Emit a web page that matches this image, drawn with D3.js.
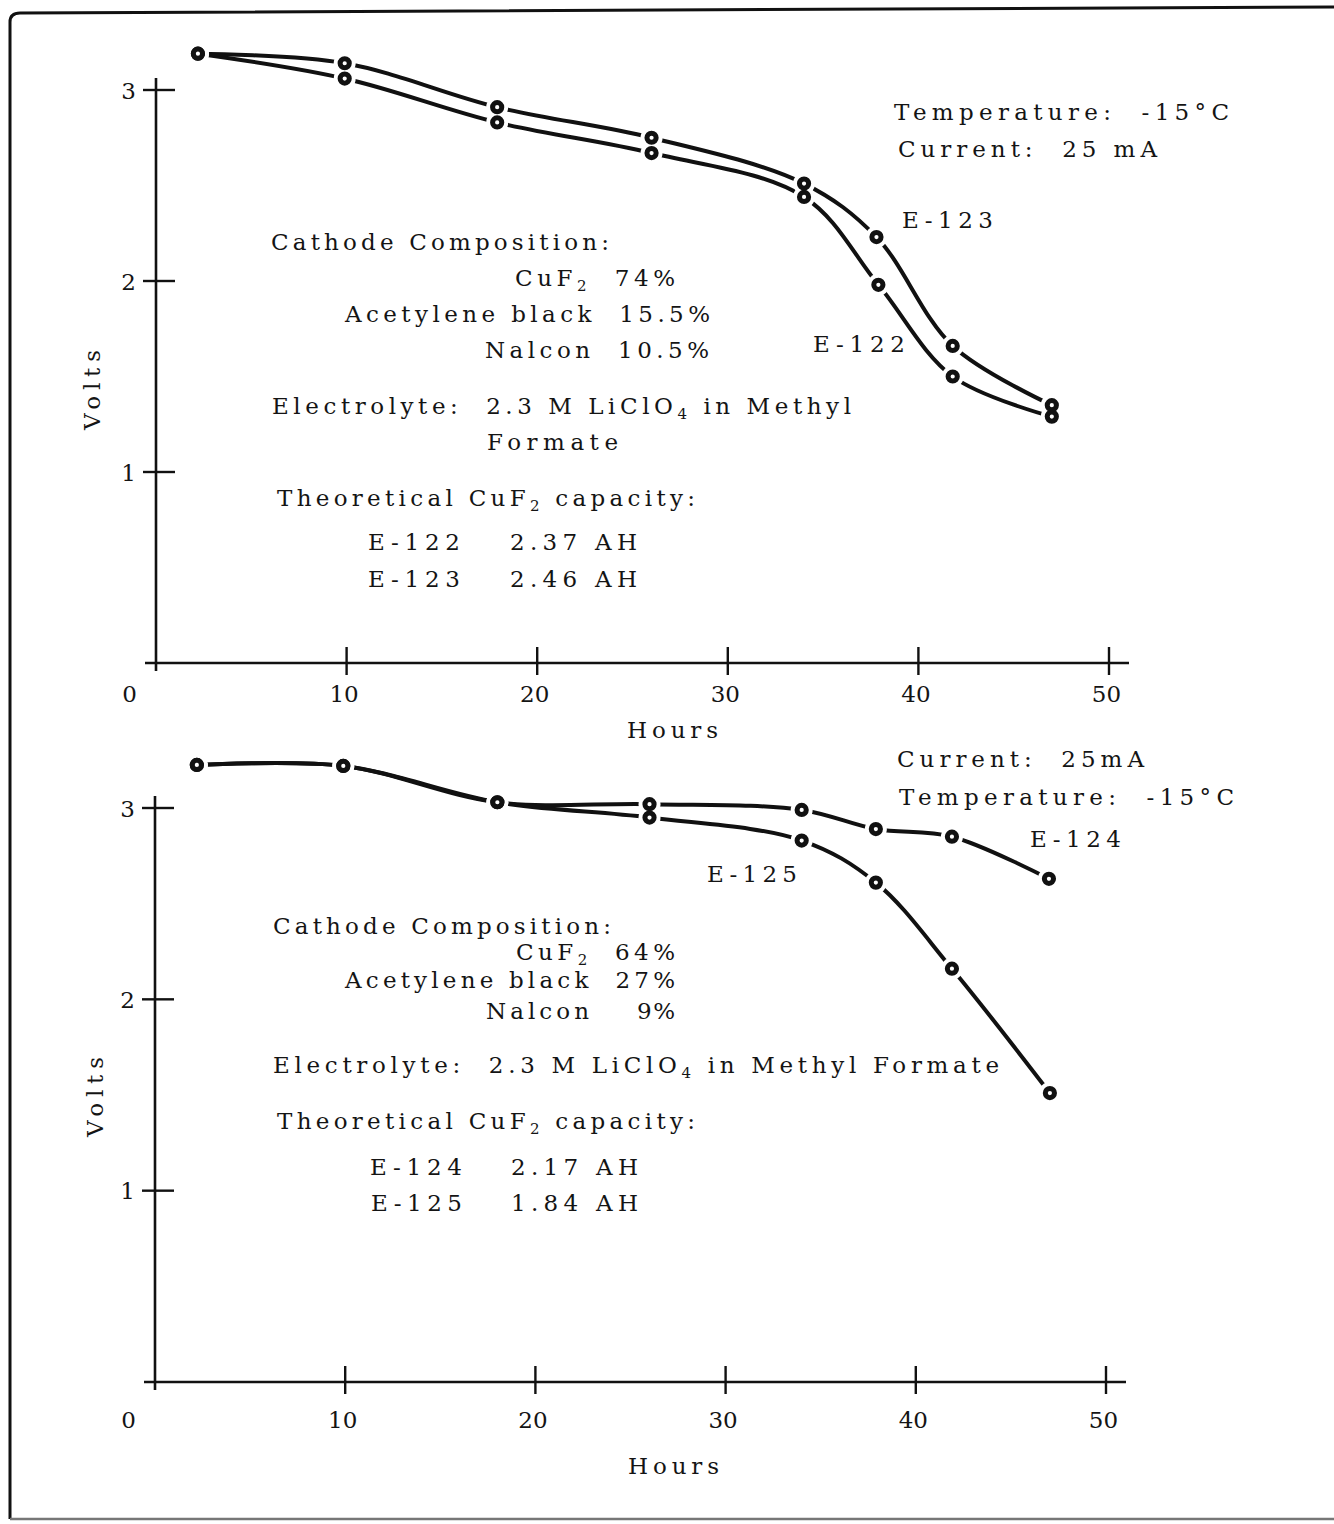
<!DOCTYPE html>
<html>
<head>
<meta charset="utf-8">
<script src="https://cdn.jsdelivr.net/npm/d3@7"></script>
<style>
  body { margin: 0; background: #fff; }
  svg { display: block; }
  text { font-family: "DejaVu Serif", "Liberation Serif", serif; fill: #141414; white-space: pre; }
</style>
</head>
<body>
<svg id="fig" width="1334" height="1524"></svg>
<script>
// ---- axis ticks ----
const hoursTicks = [0, 10, 20, 30, 40, 50];
const voltTicks = [1, 2, 3];

// ---- upper panel: cells E-122 / E-123 (hours, volts) ----
const e122Hours = [2.2, 9.9, 17.9, 26.0, 34.0, 37.9, 41.8, 47.0];
const e122Volts = [3.19, 3.06, 2.83, 2.67, 2.44, 1.98, 1.50, 1.29];
const e123Hours = [2.2, 9.9, 17.9, 26.0, 34.0, 37.8, 41.8, 47.0];
const e123Volts = [3.19, 3.14, 2.91, 2.75, 2.51, 2.23, 1.66, 1.35];

// ---- lower panel: cells E-124 / E-125 (hours, volts) ----
const e124Hours = [2.2, 9.9, 18.0, 26.0, 34.0, 37.9, 41.9, 47.0];
const e124Volts = [3.225, 3.22, 3.03, 3.02, 2.99, 2.89, 2.85, 2.63];
const e125Hours = [2.2, 9.9, 18.0, 26.0, 34.0, 37.9, 41.9, 47.05];
const e125Volts = [3.225, 3.22, 3.03, 2.95, 2.83, 2.61, 2.16, 1.51];

// ---- annotation texts ("_n" marks a subscript digit) ----
const upperNotes = [
  "Temperature:  -15°C", "Current:  25 mA", "E-123", "E-122",
  "Cathode Composition:", "CuF_2  74%", "Acetylene black  15.5%", "Nalcon  10.5%",
  "Electrolyte:  2.3 M LiClO_4 in Methyl", "Formate",
  "Theoretical CuF_2 capacity:", "E-122", "2.37 AH", "E-123", "2.46 AH"
];
const lowerNotes = [
  "Current:  25mA", "Temperature:  -15°C", "E-124", "E-125",
  "Cathode Composition:", "CuF_2  64%", "Acetylene black  27%", "Nalcon", "9%",
  "Electrolyte:  2.3 M LiClO_4 in Methyl Formate",
  "Theoretical CuF_2 capacity:", "E-124", "2.17 AH", "E-125", "1.84 AH"
];

// text placement: [left x, baseline y, set width]
const upperNoteLayout = [
  [894, 120, 335], [898, 157, 259], [902, 228, 91], [813, 352, 92],
  [271, 250, 338], [515, 286, 160], [345, 322, 365], [485, 358, 224],
  [272, 414, 579], [487, 450, 131],
  [277, 506, 418], [368, 550, 92], [510, 550, 127], [368, 587, 92], [510, 587, 127]
];
const lowerNoteLayout = [
  [897, 767, 247], [899, 805, 335], [1030, 847, 91], [707, 882, 90],
  [273, 934, 338], [516, 960, 159], [345, 988, 330], [486, 1019, 103], [637, 1019, 38],
  [273, 1073, 726],
  [277, 1129, 418], [370, 1175, 92], [511, 1175, 127], [371, 1211, 91], [511, 1211, 127]
];

const FONT = 23;
const svg = d3.select("#fig");
svg.append("rect").attr("width", 1334).attr("height", 1524).attr("fill", "#fff");

// page frame
svg.append("path")
  .attr("d", "M10,1519 L10,22 Q10,13 20,13 L1334,7")
  .attr("fill", "none").attr("stroke", "#111").attr("stroke-width", 3);
svg.append("line")
  .attr("x1", 10).attr("x2", 1334).attr("y1", 1519).attr("y2", 1519)
  .attr("stroke", "#777").attr("stroke-width", 2.5);

function writeNote(g, str, pos) {
  const t = g.append("text")
    .attr("x", pos[0]).attr("y", pos[1])
    .attr("font-size", FONT)
    .attr("textLength", pos[2]).attr("lengthAdjust", "spacing");
  const parts = str.split(/(_\d)/).filter(s => s.length);
  let shifted = false;
  parts.forEach(p => {
    if (p.startsWith("_")) {
      t.append("tspan").attr("font-size", 15).attr("dy", 5).text(p.slice(1));
      shifted = true;
    } else {
      const ts = t.append("tspan").text(p);
      if (shifted) { ts.attr("dy", -5); shifted = false; }
    }
  });
}

function panel(p) {
  const x = d3.scaleLinear().domain([0, 50]).range(p.xRange);
  const y = d3.scaleLinear().domain([0, 3]).range(p.yRange);
  const g = svg.append("g");
  const x0 = x(0), y0 = y(0);
  const ink = "#111";

  // axes lines
  g.append("line").attr("x1", x0 - 11).attr("x2", x(50) + 20)
    .attr("y1", y0).attr("y2", y0).attr("stroke", ink).attr("stroke-width", 2.6);
  g.append("line").attr("x1", x0).attr("x2", x0)
    .attr("y1", y(3) - 12).attr("y2", y0 + 8).attr("stroke", ink).attr("stroke-width", 2.6);

  // cross ticks
  g.selectAll(".xt").data(hoursTicks.slice(1)).join("line")
    .attr("x1", d => x(d)).attr("x2", d => x(d))
    .attr("y1", y0 - 16).attr("y2", y0 + 12)
    .attr("stroke", ink).attr("stroke-width", 2.4);
  g.selectAll(".yt").data(voltTicks).join("line")
    .attr("x1", x0 - 13).attr("x2", x0 + 19)
    .attr("y1", d => y(d)).attr("y2", d => y(d))
    .attr("stroke", ink).attr("stroke-width", 2.4);

  // tick labels
  const xa = g.append("g")
    .attr("transform", `translate(0,${p.xLabelBase})`)
    .call(d3.axisBottom(x).tickValues(hoursTicks).tickFormat(d3.format("d")).tickSize(0).tickPadding(0));
  xa.select(".domain").remove();
  xa.attr("font-family", null).attr("font-size", null);
  xa.selectAll("text")
    .attr("y", 0).attr("dy", 0)
    .attr("dx", d => d === 0 ? -27 : -3)
    .attr("font-size", FONT).attr("fill", "#141414");

  const ya = g.append("g")
    .attr("transform", `translate(${x0 - 20},0)`)
    .call(d3.axisLeft(y).tickValues(voltTicks).tickFormat(d3.format("d")).tickSize(0).tickPadding(0));
  ya.select(".domain").remove();
  ya.attr("font-family", null).attr("font-size", null);
  ya.selectAll("text")
    .attr("x", 0).attr("dy", 8)
    .attr("font-size", FONT).attr("fill", "#141414");

  // axis titles
  g.append("text")
    .attr("transform", `translate(${p.voltsPos[0]},${p.voltsPos[1]}) rotate(-90)`)
    .attr("text-anchor", "middle").attr("font-size", FONT)
    .attr("textLength", 80).attr("lengthAdjust", "spacing")
    .text("Volts");
  g.append("text")
    .attr("x", p.hoursPos[0]).attr("y", p.hoursPos[1])
    .attr("font-size", FONT)
    .attr("textLength", 91).attr("lengthAdjust", "spacing")
    .text("Hours");

  // discharge curves
  const line = d3.line()
    .x(d => x(d[0])).y(d => y(d[1]))
    .curve(d3.curveCatmullRom.alpha(0.5));
  p.series.forEach(s => {
    const pts = s.hours.map((h, i) => [h, s.volts[i]]);
    g.append("path").attr("d", line(pts))
      .attr("fill", "none").attr("stroke", ink)
      .attr("stroke-width", 4).attr("stroke-linecap", "round");
  });

  // gaps around the markers, then the markers
  const allPts = p.series.flatMap(s => s.hours.map((h, i) => [h, s.volts[i]]));
  g.selectAll(".halo").data(allPts).join("circle")
    .attr("cx", d => x(d[0])).attr("cy", d => y(d[1]))
    .attr("r", 11).attr("fill", "#fff");
  g.selectAll(".mk").data(allPts).join("circle")
    .attr("cx", d => x(d[0])).attr("cy", d => y(d[1]))
    .attr("r", 4.6).attr("fill", "#fff")
    .attr("stroke", ink).attr("stroke-width", 5);

  // annotations
  p.notes.forEach((str, i) => writeNote(g, str, p.layout[i]));
}

panel({
  xRange: [156, 1109], yRange: [663, 90],
  xLabelBase: 702, voltsPos: [100, 390], hoursPos: [627, 738],
  series: [
    { hours: e122Hours, volts: e122Volts },
    { hours: e123Hours, volts: e123Volts }
  ],
  notes: upperNotes, layout: upperNoteLayout
});

panel({
  xRange: [155, 1106], yRange: [1382, 808],
  xLabelBase: 1428, voltsPos: [103, 1097], hoursPos: [628, 1474],
  series: [
    { hours: e124Hours, volts: e124Volts },
    { hours: e125Hours, volts: e125Volts }
  ],
  notes: lowerNotes, layout: lowerNoteLayout
});
</script>
</body>
</html>
